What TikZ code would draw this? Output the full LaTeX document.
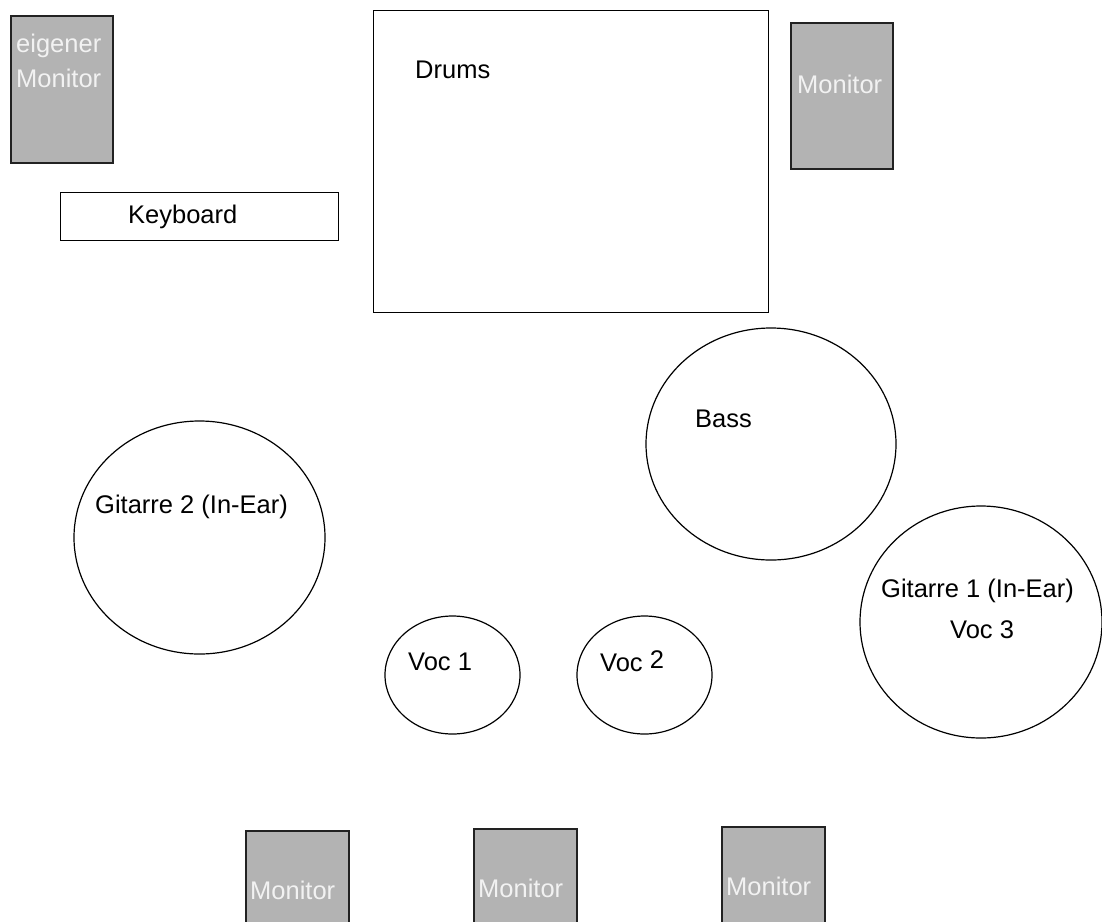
\documentclass[tikz,border=0pt]{standalone}
\usepackage{fontspec}
\setmainfont{Liberation Sans}
\usepackage{xcolor}
\usepackage{tikz}
\usetikzlibrary{positioning, shapes.geometric}
\definecolor{monitorgray}{HTML}{B3B3B3}
\definecolor{monitortext}{HTML}{F2F2F2}
\definecolor{edgegray}{HTML}{222222}

\begin{document}
\begin{tikzpicture}[x=1pt, y=-1pt,
    font=\fontsize{25.5}{30}\selectfont,
    box/.style={draw=black, line width=1.2pt, inner sep=0pt, anchor=north west},
    monitorbox/.style={box, fill=monitorgray, draw=edgegray, line width=2pt},
    spot/.style={draw=black, line width=1.2pt, ellipse, inner sep=0pt},
    lbl/.style={anchor=base west, inner sep=0pt},
    monlbl/.style={lbl, text=monitortext}]
  \useasboundingbox (0,0) rectangle (1102,921);
  \fill[white] (0,0) rectangle (1102,921);
  \clip (0,0) rectangle (1102,921);

  % back line
  \node[monitorbox, minimum width=102pt, minimum height=147pt] (ownmon) at (10,15) {};
  \node[box, minimum width=278pt, minimum height=48pt] (keys) at (60,192) {};
  \node[box, minimum width=395pt, minimum height=302pt] (drums) at (373,10) {};
  \node[monitorbox, minimum width=102pt, minimum height=146pt] (drummon) at (790,22) {};

  \node[monlbl] (ownmontop) at (16,52) {eigener};
  \node[monlbl] (ownmonbot) at (16,87) {Monitor};
  \node[lbl] (keystext) at (128,223) {Keyboard};
  \node[lbl] (drumstext) at (415,78) {Drums};
  \node[monlbl] (drummontext) at (797,93) {Monitor};

  % players
  \node[spot, minimum width=250pt, minimum height=232pt] (bass) at (771,444) {};
  \node[spot, minimum width=251pt, minimum height=233pt] (gitB) at (199.5,537.5) {};
  \node[spot, minimum width=242pt, minimum height=232pt] (gitA) at (981,622) {};
  \node[spot, minimum width=135pt, minimum height=118pt] (vocA) at (452.5,675) {};
  \node[spot, minimum width=135pt, minimum height=118pt] (vocB) at (644.5,675) {};

  \node[lbl] (basstext) at (695,427) {Bass};
  \node[lbl] (gitBtext) at (95,513) {Gitarre 2 (In-Ear)};
  \node[lbl] (gitAtext) at (881,597) {Gitarre 1 (In-Ear)};
  \node[lbl] (vocCtext) at (950,638) {Voc 3};
  \node[lbl] (vocAtext) at (408,670) {Voc 1};
  \node[lbl] (vocBtext) at (600,671) {Voc \raisebox{3pt}{2}};

  % front wedges
  \node[monitorbox, minimum width=103pt, minimum height=120pt] (monA) at (245,830) {};
  \node[monitorbox, minimum width=103pt, minimum height=120pt] (monB) at (473,828) {};
  \node[monitorbox, minimum width=103pt, minimum height=120pt] (monC) at (721,826) {};

  \node[monlbl] (monAtext) at (250,899) {Monitor};
  \node[monlbl] (monBtext) at (478,897) {Monitor};
  \node[monlbl] (monCtext) at (726,895) {Monitor};
\end{tikzpicture}
\end{document}
